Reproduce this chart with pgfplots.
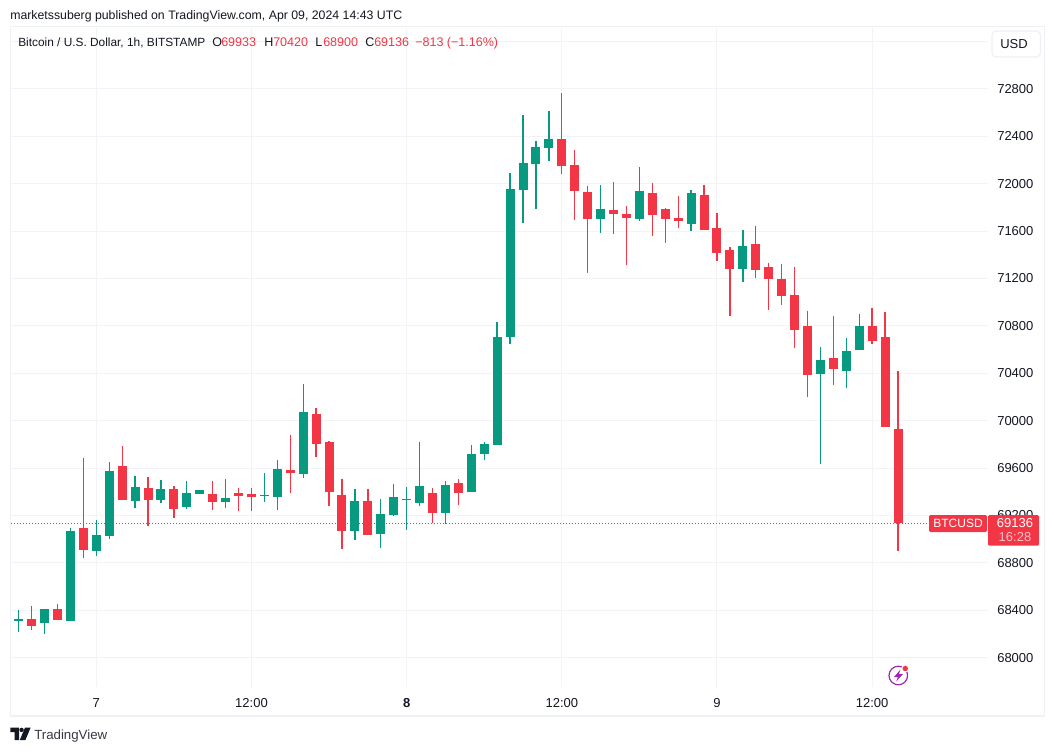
\documentclass[border=0pt]{standalone}
\usepackage{pgfplots}
\usepackage{pgfplotstable}
\usepackage{fontspec}
\setmainfont{Liberation Sans}
\pgfplotsset{compat=1.18}
\definecolor{tvgreen}{HTML}{089981}
\definecolor{tvred}{HTML}{F23645}
\definecolor{tvtext}{HTML}{131722}
\definecolor{tvgrid}{HTML}{F2F3F6}
\definecolor{tvframe}{HTML}{F0F1F7}
\definecolor{tvpurple}{HTML}{9C27B0}
\definecolor{tvpink}{HTML}{FFC1C7}
\pgfplotstableread{
i o h l c
-6 68310 68402 68217 68326
-4 68293 68411 68200 68411
-2 68310 69094 68310 69069
0 68900 69162 68858 69035
1 69027 69651 69001 69575
3 69322 69533 69263 69440
5 69331 69500 69305 69423
7 69272 69491 69255 69390
8 69381 69415 69381 69415
10 69314 69508 69263 69348
13 69365 69559 69314 69373
14 69356 69668 69246 69592
16 69550 70310 69516 70073
20 69069 69423 68993 69322
22 69044 69339 68925 69212
23 69204 69466 69196 69356
24 69331 69440 69078 69339
25 69305 69820 69280 69449
27 69221 69491 69128 69457
29 69398 69795 69398 69719
30 69719 69820 69668 69803
31 69795 70833 69795 70706
32 70706 72090 70647 71955
33 71947 72580 71668 72175
34 72166 72360 71787 72310
35 72301 72614 72192 72377
39 71702 71989 71584 71787
42 71702 72141 71685 71938
46 71660 71947 71601 71922
50 71280 71609 71170 71474
56 70394 70622 69635 70512
58 70419 70698 70276 70588
59 70597 70900 70597 70799
}\upcandles
\pgfplotstableread{
i o h l c
-5 68326 68436 68234 68267
-3 68411 68453 68318 68318
-1 69094 69685 68841 68909
2 69618 69786 69331 69331
4 69432 69525 69111 69331
6 69423 69449 69179 69255
9 69381 69491 69246 69314
11 69390 69432 69238 69365
12 69381 69432 69238 69356
15 69584 69879 69390 69559
17 70056 70107 69694 69803
18 69820 69829 69280 69398
19 69373 69508 68917 69069
21 69322 69423 69035 69035
26 69390 69432 69137 69221
28 69474 69508 69289 69390
36 72377 72765 72082 72149
37 72158 72284 71694 71938
38 71930 71981 71246 71702
40 71778 72014 71576 71744
41 71744 71812 71314 71711
43 71922 72006 71559 71736
44 71787 71795 71500 71702
45 71711 71896 71626 71685
47 71905 71989 71609 71609
48 71626 71753 71348 71415
49 71441 71466 70884 71280
51 71491 71643 71204 71272
52 71297 71331 70934 71196
53 71196 71322 70976 71052
54 71061 71297 70614 70765
55 70799 70926 70200 70386
57 70529 70884 70301 70436
60 70799 70951 70647 70673
61 70706 70917 69947 69947
62 69933 70420 68900 69136
}\downcandles
\begin{document}
\begin{tikzpicture}
\fill[white] (0,0) rectangle (790.5pt,563.25pt);
\path[use as bounding box] (0,0) rectangle (790.5pt,563.25pt);
\begin{axis}[
  at={(8.25pt,48pt)}, anchor=south west,
  scale only axis, width=732.75pt, height=494.25pt,
  xmin=-6.597, xmax=68.96, ymin=67753, ymax=73314,
  axis line style={draw=none},
  major tick length=0pt,
  tick style={draw=none},
  grid=major,
  grid style={draw=tvgrid, line width=0.75pt},
  xtick={0,12,24,36,48,60},
  xticklabels={7,12:00,\textbf{8},12:00,9,12:00},
  ytick={68000,68400,68800,69200,69600,70000,70400,70800,71200,71600,72000,72400,72800},
  extra y ticks={73200}, extra y tick labels={},
  extra y tick style={grid=major},
  scaled y ticks=false,
  yticklabel pos=right,
  /pgf/number format/assume math mode=true,
  /pgf/number format/1000 sep={},
  /pgf/number format/fixed,
  /pgf/number format/precision=0,
  tick label style={font=\fontsize{9.75pt}{11pt}\selectfont, text=tvtext},
  yticklabel style={anchor=west, inner xsep=0pt, xshift=6.75pt},
  xticklabel style={anchor=center, yshift=-12pt},
  error bars/error mark=none,
]
\addplot[draw=none, no markers, forget plot, error bars/.cd, y dir=minus, y explicit, error bar style={draw=tvgreen, line width=1pt}]
  table[x=i, y=h, y error minus expr=\thisrow{h}-\thisrow{l}] {\upcandles};
\addplot[draw=none, no markers, forget plot, error bars/.cd, y dir=minus, y explicit, error bar style={draw=tvred, line width=1pt}]
  table[x=i, y=h, y error minus expr=\thisrow{h}-\thisrow{l}] {\downcandles};
\addplot[draw=none, no markers, forget plot, error bars/.cd, y dir=minus, y explicit, error bar style={draw=tvgreen, line width=6.75pt}]
  table[x=i, y=c, y error minus expr=\thisrow{c}-\thisrow{o}] {\upcandles};
\addplot[draw=none, no markers, forget plot, error bars/.cd, y dir=minus, y explicit, error bar style={draw=tvred, line width=6.75pt}]
  table[x=i, y=o, y error minus expr=\thisrow{o}-\thisrow{c}] {\downcandles};
\addplot[draw=tvred, line width=0.75pt, dash pattern=on 0.8pt off 1.45pt, forget plot] coordinates {(-6.597,69136) (64.5,69136)};
\end{axis}
\begin{scope}[x=0.75pt,y=-0.75pt,shift={(0pt,563.25pt)}]
  % frame
  \draw[tvframe, line width=1.2pt] (10.5,26.5) rectangle (1044.5,716);
  % header
  \node[anchor=base west, inner sep=0pt, text=tvtext, font=\fontsize{9.23pt}{11pt}\selectfont] at (10,19.5) {marketssuberg published on TradingView.com, Apr 09, 2024 14:43 UTC};
  \begin{scope}[every node/.style={anchor=base west, inner sep=0pt, font=\fontsize{9.4pt}{11pt}\selectfont}]
    \node[text=tvtext, font=\fontsize{8.9pt}{11pt}\selectfont] at (18,46.5) {Bitcoin / U.S. Dollar, 1h, BITSTAMP};
    \node[text=tvtext] at (212,46.5) {O};
    \node[text=tvred] at (221,46.5) {69933};
    \node[text=tvtext] at (264,46.5) {H};
    \node[text=tvred] at (273,46.5) {70420};
    \node[text=tvtext] at (315,46.5) {L};
    \node[text=tvred] at (323,46.5) {68900};
    \node[text=tvtext] at (365,46.5) {C};
    \node[text=tvred] at (374,46.5) {69136};
    \node[text=tvred] at (415,46.5) {−813 (−1.16\%)};
  \end{scope}
  % USD button
  \draw[fill=white, draw=tvframe, line width=1pt, rounded corners=3pt] (992,31) rectangle (1040.5,57);
  \node[text=tvtext, font=\fontsize{9.75pt}{11pt}\selectfont, inner sep=0pt] at (1014,44) {USD};
  % price badges
  \fill[tvred, rounded corners=1pt] (929,515) rectangle (987,532);
  \node[white, font=\fontsize{9pt}{11pt}\selectfont, inner sep=0pt] at (958,523.5) {BTCUSD};
  \fill[tvred, rounded corners=1pt] (988,515) rectangle (1039,545.7);
  \node[white, font=\fontsize{9.75pt}{11pt}\selectfont, inner sep=0pt] at (1015,523.5) {69136};
  \node[tvpink, font=\fontsize{9.75pt}{11pt}\selectfont, inner sep=0pt] at (1015,537.5) {16:28};
  % snap icon
  \draw[tvpurple, line width=0.9pt] (898.3,675.5) circle (9.3);
  \fill[tvpurple] (900.5,669.5) -- (894,677) -- (898,677) -- (896.2,681.5) -- (902.8,674.2) -- (898.8,674.2) -- cycle;
  \fill[white] (905.3,668.5) circle (4);
  \fill[tvred] (905.3,668.5) circle (2.7);
  % logo
  \fill[tvtext] (10.3,727.7) -- (19,727.7) -- (19,740) -- (14.6,740) -- (14.6,732) -- (10.3,732) -- cycle;
  \fill[tvtext] (21.6,729.9) circle (2.2);
  \fill[tvtext] (25,727.7) -- (30.6,727.7) -- (25.4,740) -- (19.8,740) -- cycle;
  \node[anchor=base west, inner sep=0pt, text=tvtext!85, font=\fontsize{9.95pt}{12pt}\selectfont] at (34,739) {TradingView};
\end{scope}
\end{tikzpicture}
\end{document}
